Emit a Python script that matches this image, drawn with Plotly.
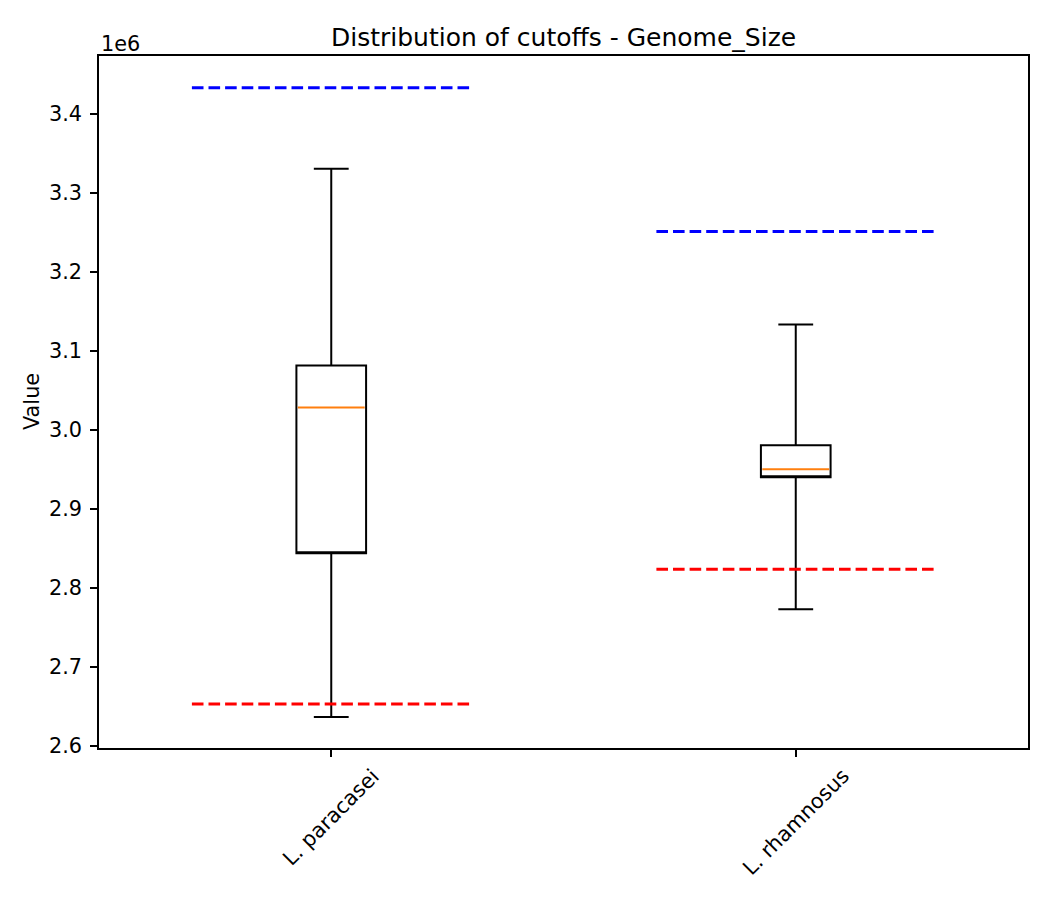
import plotly.graph_objects as go

categories = ["L. paracasei", "L. rhamnosus"]
positions = [1, 2]
lower_whisker = [2.6367e6, 2.7731e6]
q1 = [2.8439e6, 2.9400e6]
median = [3.0284e6, 2.9501e6]
q3 = [3.0815e6, 2.9804e6]
upper_whisker = [3.3305e6, 3.1333e6]
upper_cutoff = [3.4329e6, 3.2509e6]
lower_cutoff = [2.6531e6, 2.8237e6]
ytick_vals = [2.6e6, 2.7e6, 2.8e6, 2.9e6, 3.0e6, 3.1e6, 3.2e6, 3.3e6, 3.4e6]
ytick_text = ["2.6", "2.7", "2.8", "2.9", "3.0", "3.1", "3.2", "3.3", "3.4"]

BOX_W = 0.15
LINE_HALF = 0.3
FONT = "DejaVu Sans"
FS = 20.8

fig = go.Figure()
# box outline + whiskers (median drawn separately in orange, so the box's own
# median line is placed on the Q1 edge where it is hidden by the outline)
fig.add_trace(go.Box(
    x=positions, q1=q1, median=q1, q3=q3,
    lowerfence=lower_whisker, upperfence=upper_whisker,
    width=BOX_W, whiskerwidth=0.5, boxpoints=False,
    fillcolor="rgba(0,0,0,0)", line=dict(color="black", width=2),
    showlegend=False, hoverinfo="skip",
))
for p, m in zip(positions, median):
    fig.add_trace(go.Scatter(x=[p - BOX_W / 2 + 0.003, p + BOX_W / 2 - 0.003], y=[m, m], mode="lines",
                             line=dict(color="#ff7f0e", width=2), showlegend=False, hoverinfo="skip"))
for p, u, l in zip(positions, upper_cutoff, lower_cutoff):
    fig.add_trace(go.Scatter(x=[p - LINE_HALF, p + LINE_HALF], y=[u, u], mode="lines",
                             line=dict(color="#0000ff", width=3, dash="11.6px,5px"),
                             showlegend=False, hoverinfo="skip"))
    fig.add_trace(go.Scatter(x=[p - LINE_HALF, p + LINE_HALF], y=[l, l], mode="lines",
                             line=dict(color="#ff0000", width=3, dash="11.6px,5px"),
                             showlegend=False, hoverinfo="skip"))

annotations = []
for p, c in zip(positions, categories):
    annotations.append(dict(x=p, xref="x", y=0, yref="paper", text=c, showarrow=False,
                            textangle=-45, xanchor="center", yanchor="top", yshift=-13,
                            font=dict(family=FONT, size=FS, color="black")))
annotations.append(dict(x=0, xref="paper", y=1, yref="paper", text="1e6", showarrow=False,
                        xanchor="left", yanchor="bottom", yshift=-2,
                        font=dict(family=FONT, size=FS, color="black")))
annotations.append(dict(x=0, xref="paper", y=0.5, yref="paper", text="Value", showarrow=False,
                        textangle=-90, xanchor="center", yanchor="middle", xshift=-67,
                        font=dict(family=FONT, size=FS, color="black")))
annotations.append(dict(x=0.5, xref="paper", y=1, yref="paper", text="Distribution of cutoffs - Genome_Size",
                        showarrow=False, xanchor="center", yanchor="middle", yshift=19,
                        font=dict(family=FONT, size=25, color="black")))

fig.update_layout(
    width=1050, height=900,
    margin=dict(l=99, r=22, t=56, b=152),
    paper_bgcolor="white", plot_bgcolor="white",
    boxmode="overlay",
    annotations=annotations,
    font=dict(family=FONT, size=FS, color="black"),
)
fig.update_xaxes(range=[0.5, 2.5], tickvals=positions, showticklabels=False,
                 ticks="outside", ticklen=7, tickwidth=1.7, tickcolor="black",
                 showline=True, linecolor="black", linewidth=1.7, mirror=True,
                 showgrid=False, zeroline=False)
fig.update_yaxes(range=[2.5975e6, 3.4730e6], tickvals=ytick_vals, ticktext=ytick_text,
                 ticks="outside", ticklen=7, tickwidth=1.7, tickcolor="black",
                 showline=True, linecolor="black", linewidth=1.7, mirror=True,
                 showgrid=False, zeroline=False, ticklabelstandoff=4,
                 tickfont=dict(family=FONT, size=FS, color="black"))

fig.write_html("out.html")
